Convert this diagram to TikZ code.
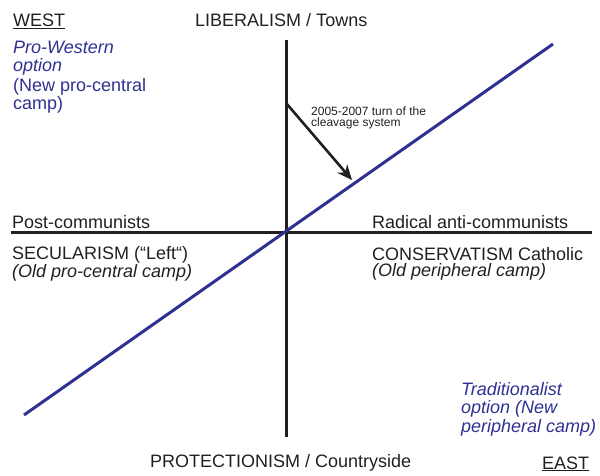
\documentclass[tikz,border=0pt]{standalone}
\usepackage{fontspec}
\setmainfont{Liberation Sans}
\usepackage{tikz}
\usetikzlibrary{arrows.meta}

\definecolor{optblue}{RGB}{46,49,146}
\definecolor{ink}{RGB}{35,31,32}

\begin{document}
\begin{tikzpicture}[x=1pt, y=-1pt, >={Stealth},
    lbl/.style={inner sep=0pt, text=ink, font=\fontsize{18}{16}\selectfont},
    opt/.style={inner sep=0pt, text=optblue, align=left, font=\fontsize{18}{18.5}\selectfont},
    axis/.style={ink, line width=3pt}]

    \useasboundingbox (0,0) rectangle (600,476);

    % Extremos de los ejes
    \coordinate (libtop) at (286,40);
    \coordinate (protbot) at (286,437);
    \coordinate (postleft) at (11,232.5);
    \coordinate (radright) at (592,232.5);

    % Ejes
    \draw[axis] (postleft) -- (radright);
    \draw[axis] (libtop) -- (protbot);

    % Eje nuevo Oeste-Este
    \coordinate (eastend) at (24,415);
    \coordinate (westend) at (553,44);
    \draw[optblue, line width=3pt] (eastend) -- (westend);

    % Giro 2005-2007 (anclas en la ultima linea)
    \coordinate (turnstart) at (286,103);
    \coordinate (turnend) at (352,180);
    \draw[->, ink, line width=2.6pt, >={Stealth[length=15pt, width=13pt]}] (turnstart) -- (turnend);
    \node[inner sep=0pt, text=ink, align=left, anchor=base west,
        font=\fontsize{12}{11}\selectfont] (turnlbl) at (311,127)
        {2005-2007 turn of the\\cleavage system};

    % Polos del eje vertical
    \node[lbl, anchor=base west] (west) at (13,27) {\underline{WEST}};
    \node[lbl, anchor=base west] (lib) at (195,27) {LIBERALISM / Towns};
    \node[lbl, anchor=base west] (prot) at (150,467) {PROTECTIONISM / Countryside};
    \node[lbl, anchor=base west] (east) at (542,469) {\underline{EAST}};

    % Polos del eje horizontal
    \node[lbl, anchor=base west] (post) at (12,228) {Post-communists};
    \node[lbl, anchor=base west] (rad) at (372,228) {Radical anti-communists};
    \node[lbl, anchor=base west, align=left] (secul) at (12,277)
        {SECULARISM (“Left“)\\\textit{(Old pro-central camp)}};
    \node[lbl, anchor=base west, align=left] (cons) at (372,276)
        {CONSERVATISM Catholic\\\textit{(Old peripheral camp)}};

    % Opciones nuevas
    \node[opt, anchor=base west] (prowest) at (13,72) {\textit{Pro-Western}\\\textit{option}};
    \node[opt, anchor=base west] (newcentral) at (13,110) {(New pro-central\\camp)};
    \node[opt, anchor=base west] (tradit) at (461,432)
        {\textit{Traditionalist}\\\textit{option (New}\\\textit{peripheral camp)}};

\end{tikzpicture}
\end{document}
